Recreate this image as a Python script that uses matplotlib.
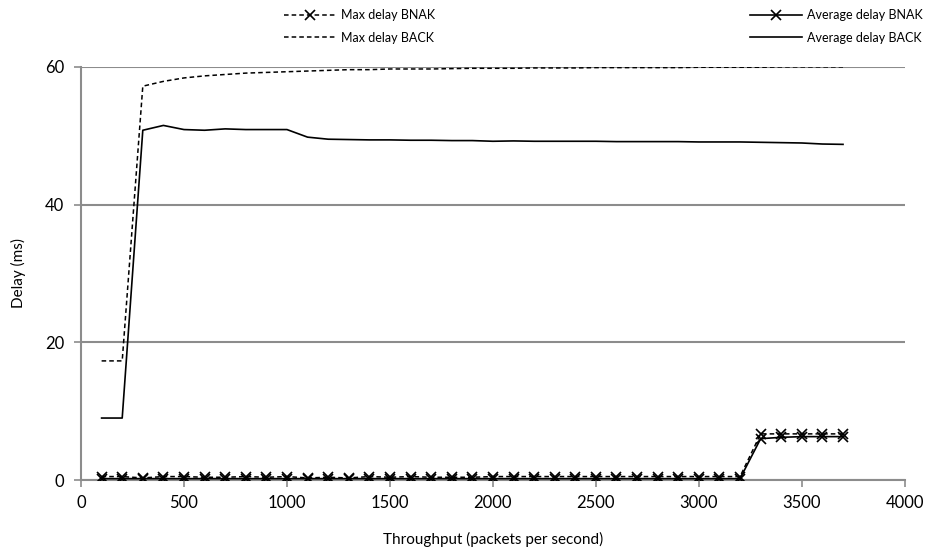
import matplotlib.pyplot as plt
import numpy as np

plt.rcParams['font.family'] = ['Lato', 'DejaVu Sans']

# throughput (packets per second)
throughput = list(range(100, 3800, 100))

# delay (ms)
max_bnak = [0.5, 0.5, 0.3, 0.5, 0.5, 0.4, 0.4, 0.5, 0.4, 0.5, 0.3, 0.4, 0.3, 0.5, 0.4,
            0.5, 0.4, 0.4, 0.4, 0.5, 0.5, 0.5, 0.5, 0.5, 0.5, 0.5, 0.5, 0.5, 0.5, 0.5,
            0.5, 0.5, 6.7, 6.7, 6.7, 6.7, 6.7]
avg_bnak = [0.2, 0.2, 0.2, 0.2, 0.2, 0.2, 0.2, 0.2, 0.2, 0.2, 0.2, 0.2, 0.2, 0.2, 0.2,
            0.2, 0.2, 0.2, 0.2, 0.2, 0.2, 0.2, 0.2, 0.2, 0.2, 0.2, 0.2, 0.2, 0.2, 0.2,
            0.2, 0.2, 6.0, 6.2, 6.3, 6.3, 6.3]
max_back = [17.3, 17.3, 57.2, 57.9, 58.4, 58.7, 58.9, 59.1, 59.2, 59.3, 59.4, 59.5,
            59.6, 59.6, 59.7, 59.7, 59.7, 59.75, 59.8, 59.8, 59.8, 59.85, 59.85, 59.85,
            59.9, 59.9, 59.9, 59.9, 59.9, 59.95, 59.95, 59.95, 59.95, 60.0, 60.0, 60.0, 60.0]
avg_back = [9.0, 9.0, 50.8, 51.5, 50.9, 50.8, 51.0, 50.9, 50.9, 50.9, 49.8, 49.5,
            49.45, 49.4, 49.4, 49.35, 49.35, 49.3, 49.3, 49.2, 49.25, 49.2, 49.2, 49.2,
            49.2, 49.15, 49.15, 49.15, 49.15, 49.1, 49.1, 49.1, 49.05, 49.0, 48.95, 48.8, 48.75]

fig = plt.figure(figsize=(9.28, 5.53), dpi=100)
ax = fig.add_axes([0.0873, 0.132, 0.8877, 0.747])

gray = '#8c8c8c'
l1, = ax.plot(throughput, max_bnak, color='black', lw=1.1, ls=(0, (3, 2)), marker='x', ms=7, mew=1.2,
              label='Max delay BNAK', zorder=3)
l2, = ax.plot(throughput, max_back, color='black', lw=1.1, ls=(0, (3, 2)),
              label='Max delay BACK', zorder=3)
l3, = ax.plot(throughput, avg_bnak, color='black', lw=1.2, marker='x', ms=7, mew=1.2,
              label='Average delay BNAK', zorder=3)
l4, = ax.plot(throughput, avg_back, color='black', lw=1.2,
              label='Average delay BACK', zorder=3)

ax.set_xlim(0, 4000)
ax.set_ylim(0, 60)
ax.set_xticks(np.arange(0, 4001, 500))
ax.set_yticks([0, 20, 40, 60])
ax.yaxis.grid(True, color=gray, lw=1.5)
ax.set_axisbelow(True)
for s in ['top', 'right']:
    ax.spines[s].set_visible(False)
for s in ['left', 'bottom']:
    ax.spines[s].set_color(gray)
    ax.spines[s].set_linewidth(1.5)
ax.tick_params(axis='both', colors=gray, labelcolor='black', labelsize=12, length=5, width=1.2)
ax.tick_params(axis='x', pad=6)
ax.tick_params(axis='y', pad=7)

ax.set_xlabel('Throughput (packets per second)', fontsize=11, labelpad=15)
ax.set_ylabel('Delay (ms)', fontsize=11, labelpad=14)

leg_kw = dict(loc='upper left', frameon=False, fontsize=9,
              handlelength=4.2, handletextpad=0.4, labelspacing=0.85,
              borderaxespad=0, borderpad=0)
fig.legend(handles=[l1, l2], bbox_to_anchor=(284 / 928, 1 - 9 / 553), **leg_kw)
fig.legend(handles=[l3, l4], bbox_to_anchor=(750 / 928, 1 - 9 / 553), **leg_kw)

fig.savefig('out.png', dpi=100)
